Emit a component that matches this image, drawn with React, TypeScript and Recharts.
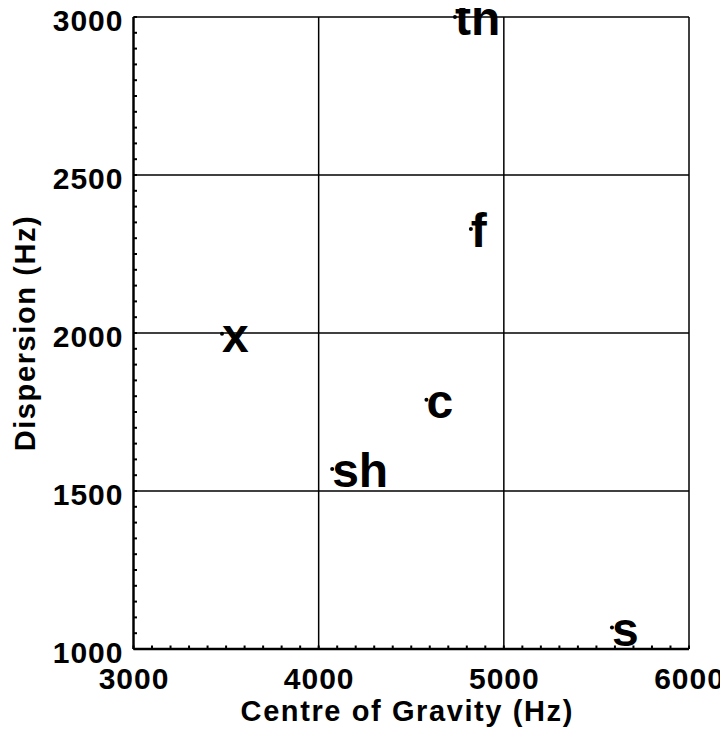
import React from 'react';
import { ScatterChart, Scatter, XAxis, YAxis, ReferenceLine } from 'recharts';

const sounds = ['x', 'sh', 'c', 'f', 'th', 's'];
const centreOfGravity = [3478, 4073, 4582, 4822, 4736, 5584];
const dispersion = [1998, 1570, 1789, 2329, 3000, 1068];

const xTicks = [3000, 4000, 5000, 6000];
const yTicks = [1000, 1500, 2000, 2500, 3000];
const xMinorTicks = [
  3000, 3100, 3200, 3300, 3400, 3500, 3600, 3700, 3800, 3900,
  4000, 4100, 4200, 4300, 4400, 4500, 4600, 4700, 4800, 4900,
  5000, 5100, 5200, 5300, 5400, 5500, 5600, 5700, 5800, 5900, 6000,
];
const yMinorTicks = [
  1000, 1050, 1100, 1150, 1200, 1250, 1300, 1350, 1400, 1450,
  1500, 1550, 1600, 1650, 1700, 1750, 1800, 1850, 1900, 1950,
  2000, 2050, 2100, 2150, 2200, 2250, 2300, 2350, 2400, 2450,
  2500, 2550, 2600, 2650, 2700, 2750, 2800, 2850, 2900, 2950, 3000,
];

const xTitle = 'Centre of Gravity (Hz)';
const yTitle = 'Dispersion (Hz)';

const data = sounds.map((s, i) => ({ sound: s, cog: centreOfGravity[i], disp: dispersion[i] }));

const FONT = '"Liberation Sans", Arial, Helvetica, sans-serif';

const XTick = (props: any) => {
  const { x, y, payload } = props;
  const v = payload.value;
  return (
    <g>
      <line x1={x} x2={x} y1={y} y2={y - 3.5} stroke="#000" strokeWidth={2} />
      {xTicks.includes(v) && (
        <text x={x + 0.5} y={y + 39.5} textAnchor="middle" fontSize={30} fontWeight="bold"
          fontFamily={FONT} fill="#000" letterSpacing={1}>
          {v}
        </text>
      )}
    </g>
  );
};

const YTick = (props: any) => {
  const { x, y, payload } = props;
  const v = payload.value;
  return (
    <g>
      <line x1={x} x2={x + 3.5} y1={y} y2={y} stroke="#000" strokeWidth={2} />
      {yTicks.includes(v) && (
        <text x={x - 10} y={y + 13.5} textAnchor="end" fontSize={30} fontWeight="bold"
          fontFamily={FONT} fill="#000" letterSpacing={1}>
          {v}
        </text>
      )}
    </g>
  );
};

const XTitle = (props: any) => {
  const vb = props.viewBox || {};
  const cx = vb.x + vb.width / 2 - 4;
  return (
    <text x={cx} y={vb.y + 71.5} textAnchor="middle" fontSize={29} fontWeight="bold"
      fontFamily={FONT} fill="#000" letterSpacing={1.6}>
      {xTitle}
    </text>
  );
};

const YTitle = (props: any) => {
  const vb = props.viewBox || {};
  const cy = vb.y + vb.height / 2;
  const bx = 27;
  return (
    <text x={bx} y={cy} transform={`rotate(-90 ${bx} ${cy})`} textAnchor="middle" fontSize={29}
      fontWeight="bold" fontFamily={FONT} fill="#000" letterSpacing={1.6}>
      {yTitle}
    </text>
  );
};

const Marker = (props: any) => {
  const { cx, cy, payload } = props;
  return (
    <g>
      <circle cx={cx} cy={cy} r={2} fill="#000" />
      <text x={cx} y={cy + 18} fontSize={48} fontWeight="bold" fontFamily={FONT} fill="#000">
        {payload.sound}
      </text>
    </g>
  );
};

export default function App() {
  return (
    <div style={{ width: 720, height: 722, background: '#fff' }}>
      <style>{'.recharts-surface, .recharts-wrapper { overflow: visible !important; }'}</style>
      <ScatterChart width={720} height={722} margin={{ top: 9, right: 39, left: 0, bottom: 0 }}>
        {xTicks.map((v) => (
          <ReferenceLine key={`gx${v}`} x={v} stroke="#000" strokeWidth={1.5} />
        ))}
        {yTicks.map((v) => (
          <ReferenceLine key={`gy${v}`} y={v} stroke="#000" strokeWidth={1.5} />
        ))}
        <XAxis
          dataKey="cog" type="number" domain={[3000, 6000]} ticks={xMinorTicks} interval={0}
          height={81} tickLine={false} tickSize={0} tickMargin={0}
          axisLine={{ stroke: '#000', strokeWidth: 2.3 }} tick={<XTick />}
          label={(p: any) => <XTitle {...p} />}
        />
        <YAxis
          dataKey="disp" type="number" domain={[1000, 3000]} ticks={yMinorTicks} interval={0}
          width={125.5} tickLine={false} tickSize={0} tickMargin={0}
          axisLine={{ stroke: '#000', strokeWidth: 2.3 }} tick={<YTick />}
          label={(p: any) => <YTitle {...p} />}
        />
        <Scatter data={data} fill="#000" shape={<Marker />} isAnimationActive={false} />
      </ScatterChart>
    </div>
  );
}
